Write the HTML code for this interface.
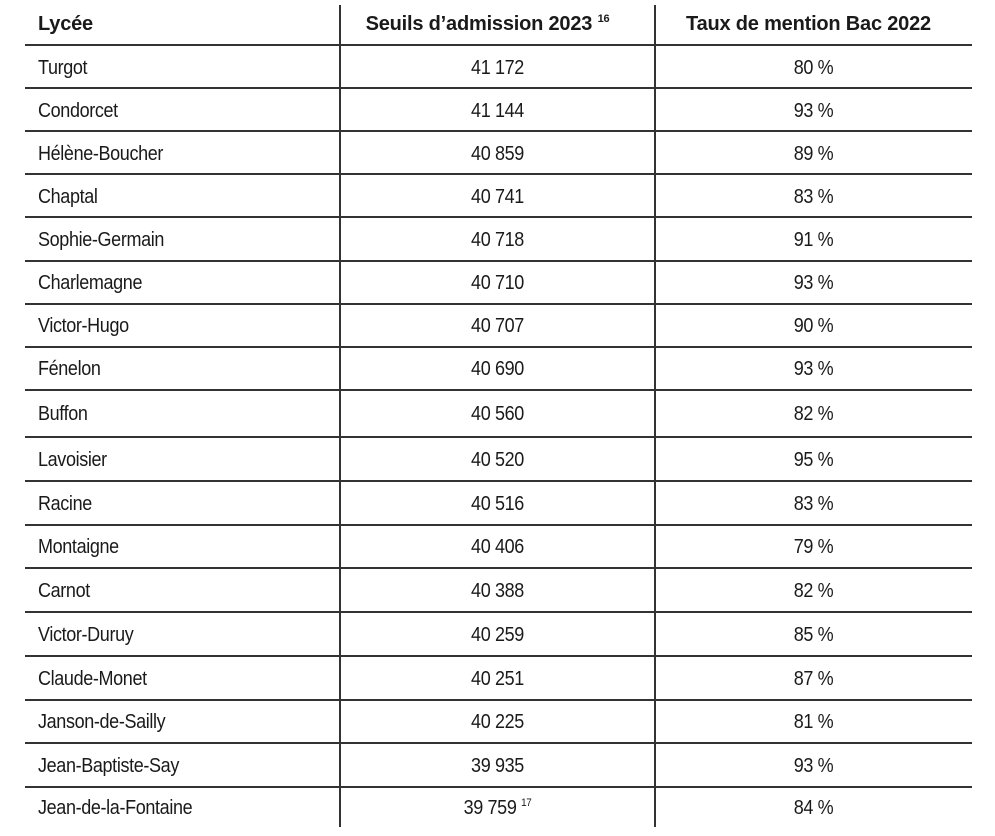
<!DOCTYPE html>
<html><head><meta charset="utf-8"><style>
body{margin:0;width:995px;height:836px;background:#fff;position:relative;overflow:hidden;font-family:"Liberation Sans",sans-serif;color:#1a1a1a}
.h{position:absolute;left:25px;width:947px;height:2px;background:#333}
.v{position:absolute;top:5px;height:822px;width:2px;background:#333}
.t{position:absolute;font-size:20px;line-height:24px;white-space:nowrap;letter-spacing:-0.4px}
.c1{left:38px;transform:scaleX(0.9);transform-origin:0 50%}
.c2{left:340px;width:315px;text-align:center;transform:scaleX(0.9)}
.c3{left:655px;width:317px;text-align:center;transform:scaleX(0.9)}
.b{font-weight:bold;transform:none;letter-spacing:-0.2px}
sup{font-size:11px;vertical-align:8px;line-height:0}
</style></head><body>
<div class="v" style="left:339px"></div>
<div class="v" style="left:654px"></div>
<div class="t c1 b" style="top:12px">Lycée</div>
<div class="t c2 b" style="top:12px;left:330px">Seuils d’admission 2023 <sup>16</sup></div>
<div class="t c3 b" style="top:12px;left:650px">Taux de mention Bac 2022</div>
<div id="rows"></div>
<script>
var d=[["Turgot","41 172","80 %"],["Condorcet","41 144","93 %"],["Hélène-Boucher","40 859","89 %"],["Chaptal","40 741","83 %"],["Sophie-Germain","40 718","91 %"],["Charlemagne","40 710","93 %"],["Victor-Hugo","40 707","90 %"],["Fénelon","40 690","93 %"],["Buffon","40 560","82 %"],["Lavoisier","40 520","95 %"],["Racine","40 516","83 %"],["Montaigne","40 406","79 %"],["Carnot","40 388","82 %"],["Victor-Duruy","40 259","85 %"],["Claude-Monet","40 251","87 %"],["Janson-de-Sailly","40 225","81 %"],["Jean-Baptiste-Say","39 935","93 %"],["Jean-de-la-Fontaine","39 759 <sup>17</sup>","84 %"]];
var ln=[45];for(var i=1;i<=8;i++)ln.push(45+i*43.1);ln.push(437);for(var i=1;i<=8;i++)ln.push(437+i*43.75);
var h="";
for(var i=0;i<18;i++){var y0=ln[i],y1=i<17?ln[i+1]:827;var cy=Math.round((y0+y1)/2-11);
h+='<div class="h" style="top:'+Math.round(y0-1)+'px"></div>';
h+='<div class="t c1" style="top:'+cy+'px">'+d[i][0]+'</div><div class="t c2" style="top:'+cy+'px">'+d[i][1]+'</div><div class="t c3" style="top:'+cy+'px">'+d[i][2]+'</div>';}
document.getElementById("rows").innerHTML=h;
</script>
</body></html>
